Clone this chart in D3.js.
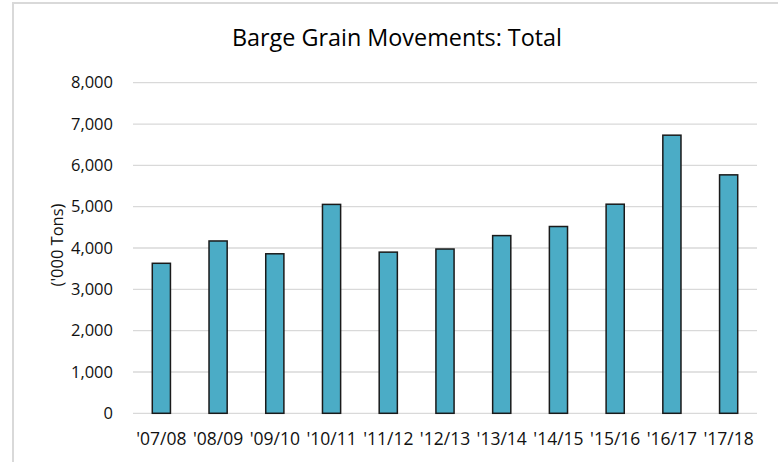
<!DOCTYPE html>
<html><head><meta charset="utf-8">
<script src="https://cdn.jsdelivr.net/npm/d3@7"></script>
<style>body{margin:0;background:#fff;} svg{display:block;font-family:"Open Sans",sans-serif;}</style>
</head><body>
<script>
const categories = ["'07/08","'08/09","'09/10","'10/11","'11/12","'12/13","'13/14","'14/15","'15/16","'16/17","'17/18"];
const values = [3630,4170,3860,5055,3900,3975,4300,4520,5060,6730,5770];
const yTicks = [0,1000,2000,3000,4000,5000,6000,7000,8000];
const title = "Barge Grain Movements: Total";
const yLabel = "('000 Tons)";

const W = 778, H = 462;
const svg = d3.select("body").append("svg").attr("width", W).attr("height", H);
svg.append("rect").attr("x",13).attr("y",3).attr("width",W+10).attr("height",H+10)
  .attr("fill","#fff").attr("stroke","#d9d9d9").attr("stroke-width",2);

const m = {left:133, right:757, top:82.7, bottom:413.3};
const x = d3.scaleBand().domain(categories).range([m.left, m.right]).paddingInner(0.68).paddingOuter(0.34);
const y = d3.scaleLinear().domain([0,8000]).range([m.bottom, m.top]);

const g = svg.append("g");
g.selectAll("line.grid").data(yTicks).enter().append("line")
  .attr("x1", m.left).attr("x2", m.right)
  .attr("y1", d => y(d)).attr("y2", d => y(d))
  .attr("stroke","#d9d9d9").attr("stroke-width",1.3);

const yAxis = svg.append("g").attr("transform", `translate(${m.left},0)`)
  .call(d3.axisLeft(y).tickValues(yTicks).tickFormat(d3.format(",")).tickSize(0).tickPadding(20));
yAxis.select(".domain").remove();
yAxis.selectAll("text").attr("font-size",16.5).attr("fill","#111").style("font-family","'Open Sans',sans-serif");

g.selectAll("rect.bar").data(values).enter().append("rect")
  .attr("x",(d,i)=>x(categories[i])).attr("width",x.bandwidth())
  .attr("y",d=>y(d)).attr("height",d=>y(0)-y(d))
  .attr("fill","#4bacc6").attr("stroke","#1a1a1a").attr("stroke-width",1.5);

const xAxis = svg.append("g").attr("transform", `translate(0,${m.bottom})`)
  .call(d3.axisBottom(x).tickSize(0).tickPadding(19));
xAxis.select(".domain").remove();
xAxis.selectAll("text").attr("font-size",17.5).attr("fill","#111").style("font-family","'Open Sans',sans-serif");

svg.append("text").attr("x",397).attr("y",46).attr("text-anchor","middle")
  .attr("font-size",24).attr("fill","#000").style("font-family","'Open Sans',sans-serif")
  .attr("textLength",330).attr("lengthAdjust","spacingAndGlyphs").text(title);

svg.append("text").attr("transform","translate(63,245) rotate(-90)").attr("text-anchor","middle")
  .attr("font-size",16.5).attr("fill","#111").style("font-family","'Open Sans',sans-serif").text(yLabel);
</script>
</body></html>
